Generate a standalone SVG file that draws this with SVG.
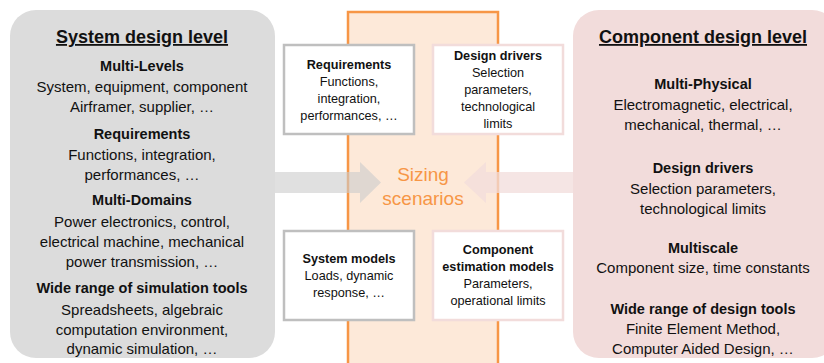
<svg xmlns="http://www.w3.org/2000/svg" width="824" height="363" viewBox="0 0 824 363">
<style>
text{font-family:"Liberation Sans",Arial,sans-serif;text-anchor:middle;fill:#111}
.t{font-size:18px;font-weight:bold;text-decoration:underline}
.h{font-size:14.5px;font-weight:bold}
.b{font-size:15px}
.sh{font-size:12.7px;font-weight:bold}
.sb{font-size:12.7px}
.sz{font-size:19px;fill:#f79646}
.box{fill:#fff;stroke-width:2.5}
</style>
<rect width="824" height="363" fill="#fff"/>
<g id="system-level">
<rect x="10" y="10" width="265" height="348" rx="26" fill="#dcdcdc"/>
<text class="t" x="142" y="43">System design level</text>
<text class="h" x="142" y="71">Multi-Levels</text>
<text class="b" x="142" y="92">System, equipment, component</text>
<text class="b" x="142" y="112">Airframer, supplier, …</text>
<text class="h" x="142" y="139">Requirements</text>
<text class="b" x="142" y="160">Functions, integration,</text>
<text class="b" x="142" y="180">performances, …</text>
<text class="h" x="142" y="205">Multi-Domains</text>
<text class="b" x="142" y="227">Power electronics, control,</text>
<text class="b" x="142" y="247">electrical machine, mechanical</text>
<text class="b" x="142" y="267">power transmission, …</text>
<text class="h" x="142" y="293">Wide range of simulation tools</text>
<text class="b" x="142" y="315">Spreadsheets, algebraic</text>
<text class="b" x="142" y="335">computation environment,</text>
<text class="b" x="142" y="354">dynamic simulation, …</text>
</g>
<g id="component-level">
<rect x="573" y="10" width="265" height="348" rx="26" fill="#f2dcdb"/>
<text class="t" x="703" y="43">Component design level</text>
<text class="h" x="703" y="89">Multi-Physical</text>
<text class="b" x="703" y="110">Electromagnetic, electrical,</text>
<text class="b" x="703" y="130">mechanical, thermal, …</text>
<text class="h" x="703" y="173">Design drivers</text>
<text class="b" x="703" y="194">Selection parameters,</text>
<text class="b" x="703" y="214">technological limits</text>
<text class="h" x="703" y="253">Multiscale</text>
<text class="b" x="703" y="273">Component size, time constants</text>
<text class="h" x="703" y="314">Wide range of design tools</text>
<text class="b" x="703" y="334">Finite Element Method,</text>
<text class="b" x="703" y="354">Computer Aided Design, …</text>
</g>
<g id="sizing-scenarios">
<rect x="348" y="12" width="150" height="362" fill="#fde9d9" stroke="#f79646" stroke-width="2.5"/>
<text class="sz" x="423" y="181">Sizing</text>
<text class="sz" x="423" y="205">scenarios</text>
</g>
<g id="connectors">
<polygon points="275,172 360,172 360,162 381,182.5 360,203 360,193 275,193" fill="#cccccc" fill-opacity="0.6"/>
<polygon points="573,172 486,172 486,162 464,182.5 486,203 486,193 573,193" fill="#f2dcdb" fill-opacity="0.75"/>
</g>
<g id="requirements">
<rect class="box" x="284" y="45" width="130" height="89" stroke="#bfbfbf"/>
<text class="sh" x="349" y="69">Requirements</text>
<text class="sb" x="349" y="86">Functions,</text>
<text class="sb" x="349" y="103">integration,</text>
<text class="sb" x="349" y="120">performances, …</text>
</g>
<g id="design-drivers">
<rect class="box" x="433" y="45" width="130" height="89" stroke="#f2dcdb"/>
<text class="sh" x="498" y="60">Design drivers</text>
<text class="sb" x="498" y="77">Selection</text>
<text class="sb" x="498" y="94">parameters,</text>
<text class="sb" x="498" y="111">technological</text>
<text class="sb" x="498" y="128">limits</text>
</g>
<g id="system-models">
<rect class="box" x="284" y="231" width="130" height="89" stroke="#bfbfbf"/>
<text class="sh" x="349" y="263">System models</text>
<text class="sb" x="349" y="280">Loads, dynamic</text>
<text class="sb" x="349" y="297">response, …</text>
</g>
<g id="component-models">
<rect class="box" x="433" y="231" width="130" height="89" stroke="#f2dcdb"/>
<text class="sh" x="498" y="254">Component</text>
<text class="sh" x="498" y="271">estimation models</text>
<text class="sb" x="498" y="288">Parameters,</text>
<text class="sb" x="498" y="305">operational limits</text>
</g>
</svg>
